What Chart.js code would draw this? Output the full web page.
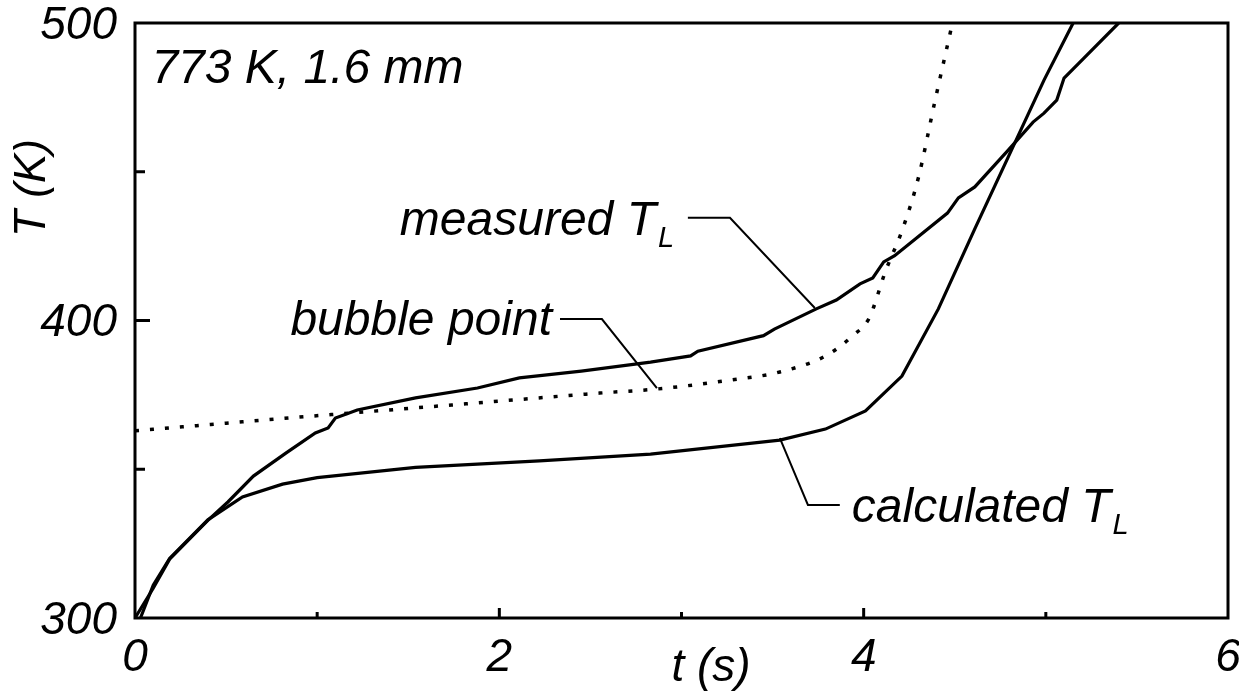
<!DOCTYPE html>
<html>
<head>
<meta charset="utf-8">
<script src="https://cdn.jsdelivr.net/npm/chart.js@4"></script>
<style>
  body { margin: 0; background: #fff; }
  canvas { display: block; }
</style>
</head>
<body>
<canvas id="chart" width="1239" height="696"></canvas>
<script>
// measured liquid temperature
const measuredTime = [0, 0.10, 0.19, 0.40, 0.51, 0.65, 0.83, 0.99, 1.06, 1.10, 1.22, 1.54, 1.88, 2.11, 2.45, 2.83, 3.05, 3.09, 3.45, 3.51, 3.74, 3.85, 3.98, 4.05, 4.11, 4.17, 4.46, 4.52, 4.61, 4.79, 4.93, 4.99, 5.06, 5.10, 5.22, 5.40];
const measuredTemp = [300, 310, 319.8, 332.8, 339, 347.7, 355.5, 362.2, 363.9, 367.2, 369.9, 374, 377.3, 380.7, 383, 386, 388.1, 389.7, 394.9, 397.1, 403.9, 406.9, 412.3, 414.3, 419.7, 421.8, 436.1, 441.2, 444.9, 457, 466.7, 469.7, 474.1, 481.5, 488.9, 500];

// calculated liquid temperature
const calculatedTime = [0.03, 0.10, 0.19, 0.40, 0.59, 0.81, 1.0, 1.54, 2.22, 2.83, 3.54, 3.79, 4.01, 4.21, 4.41, 4.61, 4.81, 4.99, 5.15];
const calculatedTemp = [300, 311, 320, 333, 340.7, 345, 347.2, 350.6, 352.8, 355.1, 359.8, 363.5, 369.6, 381.3, 403.9, 430.8, 457.1, 480.8, 500];

// bubble point
const bubbleTime = [0, 0.5, 1.08, 1.76, 2.55, 2.87, 3.27, 3.54, 3.80, 3.94, 4.03, 4.12, 4.21, 4.30, 4.39, 4.48];
const bubbleTemp = [362.9, 365.5, 368.4, 371.7, 375.6, 377, 380, 382.7, 388.4, 394.9, 400.8, 416.6, 430.1, 447.9, 473.4, 498];

const xTicks = [0, 2, 4, 6];
const yTicks = [300, 400, 500];

const FONT = '"Liberation Sans", Arial, sans-serif';

const toPoints = (xs, ys) => xs.map((x, i) => ({ x: x, y: ys[i] }));

// labels with leader lines, in data units
const notes = [
  { text: 'measured T', sub: 'L', x: 1.454, y: 428.7, align: 'left',
    leader: [[3.035, 434.5], [3.266, 434.5], [3.732, 404.2]] },
  { text: 'bubble point', x: 2.289, y: 395.1, align: 'right',
    leader: [[2.333, 400.5], [2.563, 400.5], [2.865, 377.3]] },
  { text: 'calculated T', sub: 'L', x: 3.935, y: 332.3, align: 'left',
    leader: [[3.54, 360.5], [3.694, 338], [3.869, 338]] },
  { text: '773 K, 1.6 mm', x: 0.09, y: 479.8, align: 'left' }
];

const decorPlugin = {
  id: 'decor',
  afterDraw(chart) {
    const { ctx, chartArea: a, scales } = chart;
    const xs = scales.x, ys = scales.y;
    ctx.save();
    ctx.strokeStyle = '#000';
    ctx.fillStyle = '#000';

    // frame
    ctx.lineWidth = 3;
    ctx.strokeRect(a.left, a.top, a.right - a.left, a.bottom - a.top);

    // inward ticks
    ctx.beginPath();
    for (let t = 1; t <= 5; t++) {
      const px = xs.getPixelForValue(t);
      const len = t % 2 === 0 ? 10 : 6;
      ctx.moveTo(px, a.bottom);
      ctx.lineTo(px, a.bottom - len);
    }
    [350, 400, 450].forEach((v) => {
      const py = ys.getPixelForValue(v);
      const len = v === 400 ? 15 : 10;
      ctx.moveTo(a.left, py);
      ctx.lineTo(a.left + len, py);
    });
    ctx.stroke();

    // leader lines and notes
    ctx.lineWidth = 2;
    notes.forEach((n) => {
      if (n.leader) {
        ctx.beginPath();
        n.leader.forEach((p, i) => {
          const px = xs.getPixelForValue(p[0]);
          const py = ys.getPixelForValue(p[1]);
          if (i === 0) ctx.moveTo(px, py); else ctx.lineTo(px, py);
        });
        ctx.stroke();
      }
      const px = xs.getPixelForValue(n.x);
      const py = ys.getPixelForValue(n.y);
      ctx.font = 'italic 48px ' + FONT;
      ctx.textBaseline = 'alphabetic';
      ctx.textAlign = n.align;
      ctx.fillText(n.text, px, py);
      if (n.sub) {
        const w = ctx.measureText(n.text).width;
        ctx.font = 'italic 29px ' + FONT;
        ctx.textAlign = 'left';
        ctx.fillText(n.sub, px + w + 2, py + 12);
      }
    });

    // axis titles
    ctx.font = 'italic 44px ' + FONT;
    ctx.textAlign = 'center';
    ctx.textBaseline = 'middle';
    ctx.save();
    ctx.translate(33, 188);
    ctx.rotate(-Math.PI / 2);
    ctx.fillText('T (K)', 0, 0);
    ctx.restore();
    ctx.font = 'italic 46px ' + FONT;
    ctx.fillText('t (s)', 711, 668);
    ctx.restore();
  }
};

const chart = new Chart(document.getElementById('chart').getContext('2d'), {
  type: 'line',
  plugins: [decorPlugin],
  data: {
    datasets: [
      {
        label: 'measured T_L',
        data: toPoints(measuredTime, measuredTemp),
        borderColor: '#000',
        borderWidth: 3.2,
        pointRadius: 0,
        tension: 0
      },
      {
        label: 'calculated T_L',
        data: toPoints(calculatedTime, calculatedTemp),
        borderColor: '#000',
        borderWidth: 3.2,
        pointRadius: 0,
        tension: 0
      },
      {
        label: 'bubble point',
        data: toPoints(bubbleTime, bubbleTemp),
        borderColor: '#000',
        borderWidth: 3.5,
        borderDash: [4, 11],
        pointRadius: 0,
        cubicInterpolationMode: 'monotone'
      }
    ]
  },
  options: {
    responsive: false,
    animation: false,
    layout: {
      padding: { top: 23, right: 11, left: 0, bottom: 0 }
    },
    plugins: {
      legend: { display: false },
      tooltip: { enabled: false }
    },
    scales: {
      x: {
        type: 'linear',
        min: 0,
        max: 6,
        grid: { display: false, drawTicks: false },
        border: { display: false },
        ticks: {
          stepSize: 1,
          padding: 13,
          color: '#000',
          maxRotation: 0,
          font: { family: FONT, size: 46, style: 'italic' },
          callback: (v) => (xTicks.includes(v) ? String(v) : '')
        },
        afterFit(scale) {
          scale.height = 78;
          scale.paddingLeft = 0;
          scale.paddingRight = 0;
        }
      },
      y: {
        type: 'linear',
        min: 300,
        max: 500,
        grid: { display: false, drawTicks: false },
        border: { display: false },
        ticks: {
          stepSize: 50,
          padding: 18,
          labelOffset: 3,
          color: '#000',
          font: { family: FONT, size: 46, style: 'italic' },
          callback: (v) => (yTicks.includes(v) ? String(v) : '')
        },
        afterFit(scale) {
          scale.width = 135;
          scale.paddingTop = 0;
          scale.paddingBottom = 0;
        }
      }
    }
  }
});
</script>
</body>
</html>
